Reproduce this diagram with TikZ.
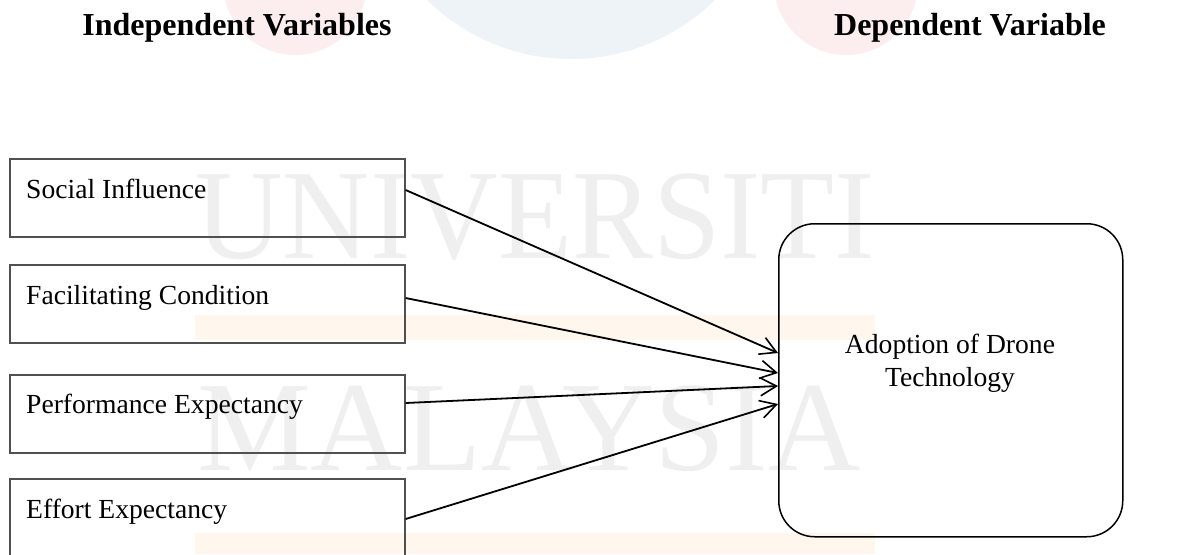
\documentclass[tikz,border=0pt]{standalone}
\usepackage{fontspec}
\setmainfont{Liberation Serif}
\usetikzlibrary{arrows.meta,calc}
\definecolor{wmgray}{RGB}{239,239,239}
\definecolor{wmpink}{RGB}{252,238,238}
\definecolor{wmblue}{RGB}{238,243,248}
\definecolor{wmorange}{RGB}{255,246,238}
\definecolor{boxgray}{RGB}{80,80,80}
\tikzset{
  ibox/.style={draw=boxgray, line width=1.6pt, minimum width=395pt, minimum height=78pt, anchor=north west, inner sep=0pt},
  ilabel/.style={anchor=base west, inner sep=0pt, font=\fontsize{27.6pt}{32pt}\selectfont},
  dbox/.style={draw=black, line width=1.5pt, rounded corners=36pt, minimum width=344pt, minimum height=313pt, anchor=north west, inner sep=0pt},
  dlabel/.style={anchor=base, inner sep=0pt, font=\fontsize{27.6pt}{32pt}\selectfont},
  heading/.style={anchor=base, inner sep=0pt, font=\fontsize{32pt}{36pt}\selectfont\bfseries},
  wmtext/.style={anchor=base west, inner sep=0pt, text=wmgray, font=\fontsize{128pt}{130pt}\selectfont},
  link/.style={line width=1.8pt, -{Straight Barb[length=16pt,width=18pt,line width=1.6pt]}},
}
\begin{document}
\begin{tikzpicture}[x=1pt,y=-1pt]
\useasboundingbox (0,0) rectangle (1198,554);
\clip (0,0) rectangle (1198,554);
% faint watermark
\fill[wmpink] (295,-17) circle (72);
\fill[wmpink] (846,-17) circle (72);
\fill[wmblue] (571,-146) circle (205);
\fill[wmorange] (195,315) rectangle (875,340);
\fill[wmorange] (195,533) rectangle (875,554);
\node[wmtext, xscale=0.947] (wm1) at (195,258) {UNIVERSITI};
\node[wmtext] (wm2) at (197,470) {MALAYSIA};
% headings
\node[heading] (h1) at (237,35) {Independent Variables};
\node[heading] (h2) at (970,35) {Dependent Variable};
% independent variable boxes
\node[ibox] (b1) at (9,158) {};
\node[ibox] (b2) at (9,264) {};
\node[ibox] (b3) at (9,374) {};
\node[ibox] (b4) at (9,478) {};
\node[ilabel] (t1) at (26,198) {Social Influence};
\node[ilabel] (t2) at (26,304) {Facilitating Condition};
\node[ilabel] (t3) at (26,413) {Performance Expectancy};
\node[ilabel] (t4) at (26,518) {Effort Expectancy};
% dependent variable box
\node[dbox] (d) at (778,223) {};
\node[dlabel] (dt1) at (950,353) {Adoption of Drone};
\node[dlabel] (dt2) at (950,386) {Technology};
% connector end points
\coordinate (s1) at ($(b1.north east)+(0,32)$);
\coordinate (s2) at ($(b2.north east)+(0,34)$);
\coordinate (s3) at ($(b3.north east)+(0,29)$);
\coordinate (s4) at ($(b4.north east)+(0,41)$);
\coordinate (e1) at ($(d.north west)+(0,130)$);
\coordinate (e2) at ($(d.north west)+(0,150)$);
\coordinate (e3) at ($(d.north west)+(0,163)$);
\coordinate (e4) at ($(d.north west)+(0,181)$);
\draw[link] (s1) -- (e1);
\draw[link] (s2) -- (e2);
\draw[link] (s3) -- (e3);
\draw[link] (s4) -- (e4);
\end{tikzpicture}
\end{document}
